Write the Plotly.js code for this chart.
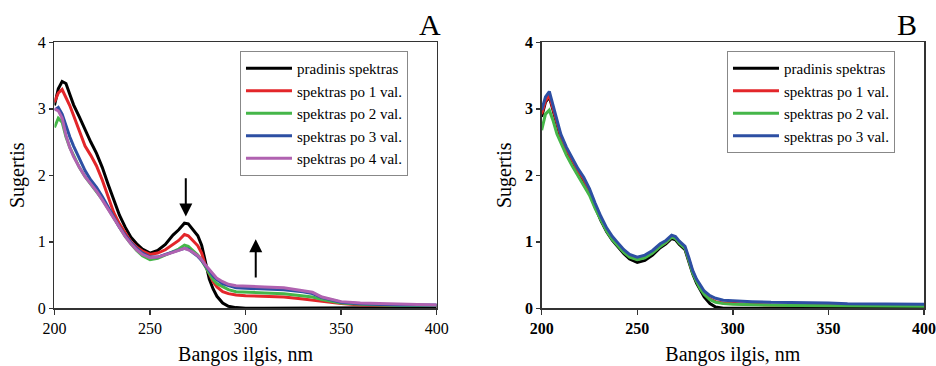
<!DOCTYPE html>
<html>
<head>
<meta charset="utf-8">
<script src="https://cdn.plot.ly/plotly-3.0.1.min.js"></script>
<style>html,body{margin:0;padding:0;background:#fff;}#chart{width:936px;height:366px;}</style>
</head>
<body>
<div id="chart"></div>
<script>
// Wavelength grid (nm)
const wavelength = [200,202,204,206,208,210,213,216,219,222,225,228,231,234,237,240,243,246,250,254,258,262,265,268,270,272,275,277,279,281,283,285,288,291,295,300,310,320,330,335,340,345,350,360,380,400];

const seriesNamesA = ["pradinis spektras","spektras po 1 val.","spektras po 2 val.","spektras po 3 val.","spektras po 4 val."];
const seriesNamesB = ["pradinis spektras","spektras po 1 val.","spektras po 2 val.","spektras po 3 val."];

// Panel A absorbance
const a_initial = [3.05,3.30,3.41,3.38,3.22,3.06,2.88,2.68,2.50,2.33,2.12,1.87,1.62,1.40,1.22,1.07,0.97,0.89,0.83,0.87,0.96,1.10,1.18,1.28,1.27,1.20,1.09,0.95,0.70,0.44,0.29,0.18,0.08,0.03,0.01,0.00,0.00,0.00,0.00,0.00,0.00,0.00,0.00,0.00,0.00,0.01];
const a_1h = [3.10,3.24,3.29,3.18,3.05,2.90,2.66,2.44,2.30,2.14,1.93,1.67,1.44,1.27,1.13,1.00,0.92,0.86,0.81,0.83,0.88,0.96,1.02,1.11,1.09,1.03,0.94,0.83,0.64,0.52,0.40,0.32,0.25,0.22,0.20,0.19,0.18,0.17,0.14,0.12,0.10,0.08,0.07,0.05,0.04,0.04];
const a_2h = [2.72,2.86,2.80,2.58,2.42,2.30,2.12,1.98,1.87,1.76,1.64,1.50,1.36,1.21,1.08,0.97,0.87,0.79,0.73,0.75,0.80,0.85,0.89,0.95,0.93,0.88,0.80,0.72,0.62,0.52,0.43,0.37,0.32,0.28,0.25,0.24,0.23,0.22,0.19,0.17,0.13,0.10,0.08,0.06,0.04,0.04];
const a_3h = [2.98,3.02,2.92,2.74,2.58,2.44,2.25,2.07,1.93,1.82,1.68,1.53,1.38,1.22,1.10,0.99,0.90,0.83,0.77,0.77,0.81,0.85,0.88,0.90,0.89,0.85,0.78,0.72,0.64,0.56,0.49,0.43,0.37,0.34,0.31,0.30,0.29,0.28,0.25,0.22,0.16,0.12,0.09,0.07,0.05,0.05];
const a_4h = [3.00,2.97,2.86,2.60,2.42,2.28,2.12,1.98,1.87,1.76,1.63,1.49,1.35,1.20,1.08,0.97,0.88,0.81,0.76,0.77,0.80,0.84,0.87,0.90,0.88,0.85,0.79,0.73,0.65,0.58,0.51,0.45,0.40,0.36,0.34,0.33,0.32,0.31,0.27,0.24,0.17,0.13,0.10,0.08,0.06,0.05];

// Panel B absorbance
const b_initial = [2.88,3.10,3.18,2.98,2.74,2.56,2.36,2.19,2.04,1.91,1.74,1.52,1.32,1.15,1.02,0.92,0.82,0.74,0.69,0.72,0.80,0.91,0.97,1.05,1.03,0.96,0.88,0.70,0.52,0.38,0.27,0.17,0.07,0.02,0.00,0.00,0.00,0.00,0.00,0.00,0.00,0.00,0.00,0.00,0.00,0.00];
const b_1h = [2.92,3.12,3.20,3.00,2.76,2.59,2.39,2.22,2.07,1.94,1.77,1.55,1.35,1.18,1.05,0.95,0.85,0.78,0.74,0.77,0.84,0.94,0.99,1.08,1.06,0.99,0.91,0.73,0.55,0.42,0.31,0.22,0.14,0.10,0.08,0.07,0.06,0.05,0.05,0.05,0.05,0.05,0.05,0.04,0.04,0.04];
const b_2h = [2.68,2.92,2.98,2.82,2.62,2.48,2.30,2.14,2.00,1.86,1.70,1.50,1.32,1.16,1.03,0.93,0.84,0.77,0.73,0.76,0.83,0.93,0.99,1.07,1.05,0.98,0.90,0.72,0.53,0.40,0.29,0.21,0.13,0.09,0.07,0.06,0.05,0.05,0.04,0.04,0.04,0.04,0.04,0.03,0.03,0.03];
const b_3h = [2.98,3.18,3.26,3.05,2.80,2.62,2.42,2.25,2.10,1.97,1.80,1.58,1.38,1.21,1.08,0.98,0.88,0.81,0.77,0.80,0.87,0.97,1.02,1.10,1.08,1.01,0.93,0.76,0.57,0.44,0.34,0.26,0.19,0.15,0.12,0.11,0.10,0.09,0.09,0.08,0.08,0.08,0.08,0.07,0.07,0.06];

const xTicks = [200,250,300,350,400];
const yTicks = [0,1,2,3,4];

const colorsA = ["#000000","#e3262a","#45b649","#2d4fa3","#b062b0"];
const colorsB = ["#000000","#e3262a","#45b649","#2d4fa3"];

const serif = 'Liberation Serif';

const traces = [];
[a_initial,a_1h,a_2h,a_3h,a_4h].forEach((ys,i)=>{
  traces.push({x:wavelength,y:ys,type:'scatter',mode:'lines',name:seriesNamesA[i],
    line:{color:colorsA[i],width:3},xaxis:'x',yaxis:'y',legend:'legend'});
});
[b_initial,b_1h,b_2h,b_3h].forEach((ys,i)=>{
  traces.push({x:wavelength,y:ys,type:'scatter',mode:'lines',name:seriesNamesB[i],
    line:{color:colorsB[i],width:3},xaxis:'x2',yaxis:'y2',legend:'legend2'});
});

function xax(domain, bold){
  return {domain:domain,range:[200,400],tickvals:xTicks,ticks:'outside',ticklen:5,tickwidth:1.5,tickcolor:'#333',
    showline:true,linecolor:'#333',linewidth:1.5,mirror:true,showgrid:false,zeroline:false,ticklabeloverflow:'allow',
    tickfont:{family:serif,size:16,color:'#000',weight:bold?'bold':'normal'},
    title:{text:'Bangos ilgis, nm',font:{family:serif,size:20,color:'#000'},standoff:15}};
}
function yax(domain, anchor, bold){
  return {domain:domain,range:[0,4],tickvals:yTicks,ticks:'outside',ticklen:4,tickwidth:1.5,tickcolor:'#333',
    showline:true,linecolor:'#333',linewidth:1.5,mirror:true,showgrid:false,zeroline:false,anchor:anchor,ticklabeloverflow:'allow',
    tickfont:{family:serif,size:16,color:'#000',weight:bold?'bold':'normal'},
    title:{text:'Sugertis',font:{family:serif,size:20,color:'#000'},standoff:8}};
}

const yDom = [0.1577,0.8844];
const layout = {
  width:936,height:366,margin:{l:0,r:0,t:0,b:0},paper_bgcolor:'#fff',plot_bgcolor:'#fff',
  font:{family:serif,color:'#000'},showlegend:true,
  xaxis:Object.assign(xax([0.0582,0.4666],false),{anchor:'y'}),
  yaxis:yax(yDom,'x',false),
  xaxis2:Object.assign(xax([0.5787,0.9872],true),{anchor:'y2'}),
  yaxis2:yax(yDom,'x2',true),
  legend:{x:0.2564,y:0.8607,xanchor:'left',yanchor:'top',bgcolor:'#fff',bordercolor:'#888',borderwidth:1,
    font:{family:serif,size:15,color:'#000'},itemwidth:46,traceorder:'normal'},
  legend2:{x:0.7767,y:0.8607,xanchor:'left',yanchor:'top',bgcolor:'#fff',bordercolor:'#888',borderwidth:1,
    font:{family:serif,size:15,color:'#000'},itemwidth:46,traceorder:'normal'},
  annotations:[
    {xref:'paper',yref:'paper',x:430/936,y:(366-25)/366,xanchor:'center',yanchor:'middle',text:'A',showarrow:false,font:{family:serif,size:30,color:'#000'}},
    {xref:'paper',yref:'paper',x:907/936,y:(366-25)/366,xanchor:'center',yanchor:'middle',text:'B',showarrow:false,font:{family:serif,size:30,color:'#000'}},
    {xref:'x',yref:'y',axref:'x',ayref:'y',x:268.7,y:1.38,ax:268.7,ay:1.98,text:'',showarrow:true,arrowhead:2,arrowsize:1.3,arrowwidth:2,arrowcolor:'#000'},
    {xref:'x',yref:'y',axref:'x',ayref:'y',x:305.3,y:1.04,ax:305.3,ay:0.44,text:'',showarrow:true,arrowhead:2,arrowsize:1.3,arrowwidth:2,arrowcolor:'#000'}
  ]
};

Plotly.newPlot('chart',traces,layout,{displayModeBar:false,staticPlot:true});
</script>
</body>
</html>
